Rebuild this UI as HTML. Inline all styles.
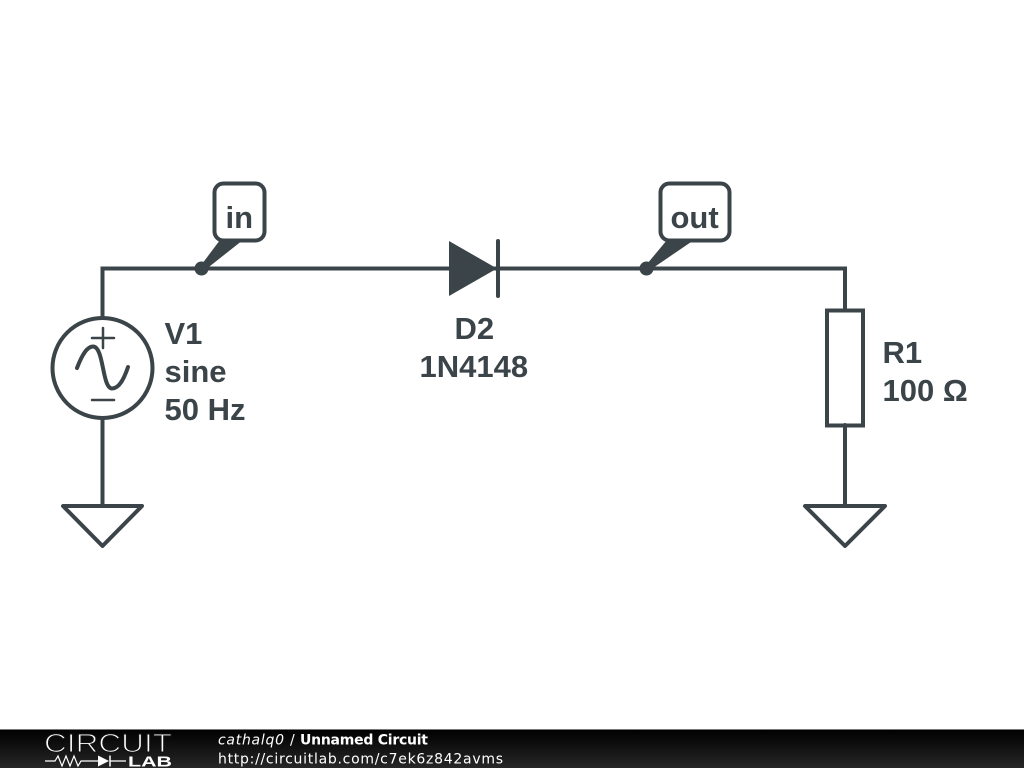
<!DOCTYPE html>
<html>
<head>
<meta charset="utf-8">
<style>
html,body{margin:0;padding:0;background:#fff;width:1024px;height:768px;overflow:hidden}
svg{display:block;position:absolute;left:0;top:0}
.l{font-family:"Liberation Sans",sans-serif;font-weight:700;font-size:31px;fill:#3b4449}
.f{font-family:"DejaVu Sans",sans-serif;font-size:14px;fill:#fff}
</style>
</head>
<body>
<svg width="1024" height="768" viewBox="0 0 1024 768" xmlns="http://www.w3.org/2000/svg">
<defs>
<linearGradient id="bar" x1="0" y1="0" x2="0" y2="1">
<stop offset="0" stop-color="#000"/>
<stop offset="1" stop-color="#262626"/>
</linearGradient>
</defs>
<rect width="1024" height="768" fill="#fff"/>
<g fill="none" stroke="#3b4449" stroke-width="4" stroke-linecap="round" stroke-linejoin="miter">
<path d="M102.500 318V268.500H845V310"/>
<path d="M102.500 418V506"/>
<path d="M845 425V506"/>
<rect x="827" y="310.500" width="36" height="115"/>
<path d="M63 506H142L102.500 546Z" stroke-linejoin="round"/>
<path d="M805 506H885L845 546Z" stroke-linejoin="round"/>
<circle cx="102.500" cy="368" r="50"/>
<path d="M103 328V348M92 338H114" stroke-width="2.500"/>
<path d="M92 400H114" stroke-width="2.500"/>
<path d="M77 368C82 355 87 346.500 93 346.500C104 346.500 102 388.500 112 388.500C119 388.500 124 379 128 367" stroke-width="4"/>
<path d="M498 241V296"/>
<rect x="214.500" y="183.500" width="50" height="57" rx="9" ry="9"/>
<rect x="660.500" y="183.500" width="69" height="57" rx="9" ry="9"/>
</g>
<path d="M449 241L497 268.500L449 296Z" fill="#3b4449"/>
<circle cx="201.500" cy="268.500" r="7" fill="#3b4449"/>
<circle cx="646.500" cy="268.500" r="7" fill="#3b4449"/>
<path d="M202 264L220 240H243L205 270Z" fill="#3b4449"/>
<path d="M647 264L667 240H694L650 270Z" fill="#3b4449"/>
<text class="l" x="225.500" y="228">in</text>
<text class="l" x="670.500" y="228">out</text>
<text class="l" x="164.500" y="344">V1</text>
<text class="l" x="164.500" y="382">sine</text>
<text class="l" x="164.500" y="420">50 Hz</text>
<text class="l" x="454.500" y="339">D2</text>
<text class="l" x="419.500" y="377">1N4148</text>
<text class="l" x="882.500" y="363">R1</text>
<text class="l" x="882.500" y="401">100 Ω</text>
<rect x="0" y="729" width="1024" height="39" fill="url(#bar)"/>
<rect x="0" y="729" width="1024" height="1" fill="#777"/>
<text x="44" y="752" font-family="Liberation Sans, sans-serif" font-size="26" fill="#fff" stroke="#111" stroke-width="1.100" textLength="128" lengthAdjust="spacingAndGlyphs">CIRCUIT</text>
<path d="M45 761H55L58 756L62 766L66 756L70 766L74 756L78 766L81 761H98M110 761H126" fill="none" stroke="#fff" stroke-width="1.200"/>
<path d="M98 755.500L109 761L98 766.500Z" fill="#fff"/>
<path d="M110 755.500V766.500" stroke="#fff" stroke-width="1.500"/>
<text x="128" y="766.500" font-family="Liberation Sans, sans-serif" font-weight="700" font-size="15" fill="#fff" textLength="44" lengthAdjust="spacingAndGlyphs">LAB</text>
<text class="f" x="218" y="744.500" font-style="italic" textLength="66" lengthAdjust="spacing">cathalq0</text>
<text class="f" x="290" y="744.500">/</text>
<text class="f" x="300" y="744.500" font-weight="700" textLength="128" lengthAdjust="spacing">Unnamed Circuit</text>
<text class="f" x="218" y="763.500" textLength="285" lengthAdjust="spacing">http://circuitlab.com/c7ek6z842avms</text>
</svg>
</body>
</html>
